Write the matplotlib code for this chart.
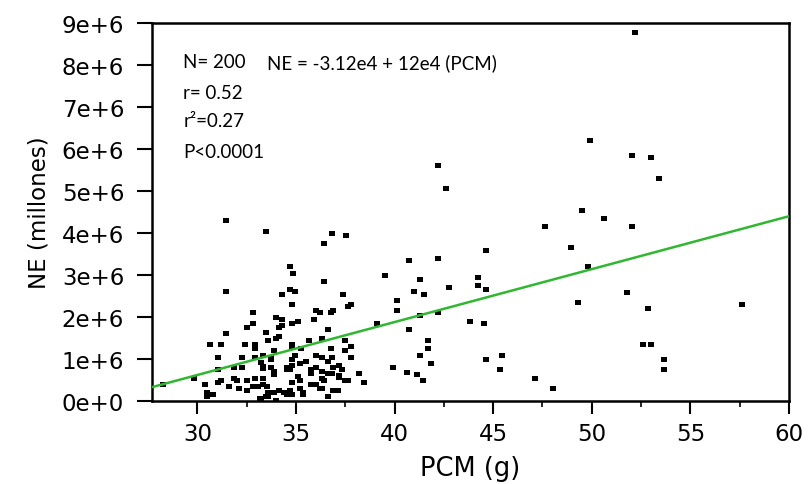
import numpy as np
import matplotlib
matplotlib.use("Agg")
import matplotlib.pyplot as plt

# ── Datos (PCM en g, NE en millones) ───────────────────────────────────────
pcm = [
    31.47, 33.5, 36.85, 37.55, 36.44, 34.7, 34.87, 36.44, 39.53, 31.47,
    34.3, 34.7, 34.97, 37.4, 42.2, 42.6, 52.2, 49.93, 52.06, 53.0,
    53.4, 49.5, 50.6, 47.65, 52.06, 48.96, 49.8, 51.8, 49.3, 52.87,
    57.6, 52.6, 53.0, 53.68, 53.68, 47.1, 48.05, 45.45, 45.37, 44.65,
    40.75, 42.2, 41.3, 44.25, 44.25, 44.65, 42.78, 40.96, 41.5, 40.1,
    40.1, 41.3, 42.2, 39.13, 40.75, 43.84, 44.55, 41.7, 41.7, 41.3,
    41.87, 39.94, 40.65, 41.16, 41.46, 44.65, 37.8, 37.65, 36.9, 36.8,
    37.5, 36.8, 37.8, 37.5, 36.85, 37.8, 36.9, 37.2, 37.35, 36.85,
    37.2, 37.2, 37.5, 37.65, 38.2, 38.47, 36.9, 32.84, 32.84, 32.5,
    31.47, 33.5, 30.66, 31.2, 32.43, 32.94, 32.94, 32.94, 33.6, 31.06,
    32.28, 32.94, 33.35, 33.25, 33.35, 33.35, 31.88, 32.28, 31.06, 29.85,
    28.26, 31.88, 32.03, 32.53, 32.94, 33.35, 31.06, 31.2, 30.4, 31.6,
    32.13, 32.53, 32.84, 33.09, 33.35, 33.55, 30.5, 30.5, 30.5, 30.8,
    33.25, 33.5, 34.82, 36.03, 36.2, 34.0, 34.3, 34.15, 34.3, 34.82,
    35.12, 35.93, 36.6, 34.0, 34.15, 35.68, 36.34, 34.82, 34.82, 35.27,
    33.9, 33.75, 33.75, 34.82, 34.97, 35.53, 36.03, 36.34, 36.6, 33.75,
    33.9, 33.9, 34.56, 34.7, 34.82, 35.22, 35.78, 35.78, 36.03, 36.34,
    36.6, 34.82, 35.12, 35.22, 35.78, 35.93, 36.03, 36.34, 36.44, 36.2,
    36.34, 33.6, 33.9, 34.15, 34.4, 34.7, 34.56, 34.82, 35.22, 35.37,
    35.37, 33.2, 33.6, 34.0, 36.6, 37.15, 34.56,
]
ne = [
    4.31, 4.05, 4.0, 3.95, 3.76, 3.21, 3.05, 2.86, 3.0, 2.62,
    2.55, 2.67, 2.62, 2.55, 5.62, 5.07, 8.79, 6.21, 5.86, 5.81,
    5.31, 4.55, 4.36, 4.17, 4.17, 3.67, 3.21, 2.6, 2.36, 2.21,
    2.31, 1.36, 1.36, 1.0, 0.76, 0.55, 0.31, 1.1, 0.76, 3.6,
    3.36, 3.4, 2.9, 2.95, 2.76, 2.67, 2.71, 2.62, 2.55, 2.4,
    2.17, 2.05, 2.12, 1.86, 1.71, 1.9, 1.86, 1.45, 1.26, 1.1,
    0.9, 0.81, 0.69, 0.64, 0.5, 1.0, 2.31, 2.26, 2.17, 2.12,
    1.45, 1.26, 1.31, 1.21, 1.05, 1.05, 0.81, 0.86, 0.76, 0.67,
    0.62, 0.57, 0.5, 0.5, 0.67, 0.45, 0.26, 2.12, 1.86, 1.76,
    1.62, 1.64, 1.36, 1.36, 1.36, 1.36, 1.31, 1.26, 1.45, 1.05,
    1.05, 1.05, 1.1, 0.93, 0.83, 0.78, 0.81, 0.81, 0.76, 0.55,
    0.4, 0.55, 0.5, 0.5, 0.55, 0.55, 0.45, 0.5, 0.4, 0.36,
    0.31, 0.26, 0.36, 0.36, 0.4, 0.36, 0.21, 0.17, 0.12, 0.17,
    0.05, 0.12, 2.31, 2.17, 2.12, 2.0, 1.95, 1.76, 1.81, 1.86,
    1.9, 1.95, 1.71, 1.5, 1.55, 1.45, 1.5, 1.36, 1.31, 1.26,
    1.21, 1.05, 1.0, 1.0, 1.1, 0.95, 1.1, 1.05, 0.95, 0.81,
    0.71, 0.64, 0.81, 0.76, 0.86, 0.9, 0.76, 0.67, 0.81, 0.71,
    0.67, 0.45, 0.6, 0.5, 0.4, 0.4, 0.4, 0.55, 0.5, 0.31,
    0.31, 0.21, 0.21, 0.26, 0.21, 0.26, 0.17, 0.17, 0.31, 0.21,
    0.17, 0.07, 0.12, 0.02, 0.12, 0.26, 0.76,
]

# recta de regresión (NE = a + b * PCM)
INTERCEPTO = -3.16e6
PENDIENTE = 0.126e6

X_MIN, X_MAX = 27.7, 60
Y_TICKS = [0, 1e6, 2e6, 3e6, 4e6, 5e6, 6e6, 7e6, 8e6, 9e6]
Y_LABELS = ["0e+0", "1e+6", "2e+6", "3e+6", "4e+6", "5e+6", "6e+6", "7e+6", "8e+6", "9e+6"]
X_TICKS = [30, 35, 40, 45, 50, 55, 60]

TEXTOS = ["N= 200", "r= 0.52", "r²=0.27", "P<0.0001"]
ECUACION = "NE = -3.12e4 + 12e4 (PCM)"

plt.rcParams["font.family"] = "DejaVu Sans"

fig = plt.figure(figsize=(8.09, 4.85), dpi=100)
ax = fig.add_axes([0.1879, 0.1711, 0.7874, 0.7794])

rect = [(-1.25, -1), (1.25, -1), (1.25, 1), (-1.25, 1), (-1.25, -1)]
ax.plot(pcm, np.array(ne) * 1e6, linestyle="none", marker=rect,
        markersize=4.5, color="black", markeredgewidth=0, zorder=2)

xs = np.array([X_MIN, X_MAX])
ax.plot(xs, INTERCEPTO + PENDIENTE * xs, color="#2fb82f", lw=1.8, zorder=3)

ax.set_xlim(X_MIN, X_MAX)
ax.set_ylim(0, 9e6)
ax.set_yticks(Y_TICKS)
ax.set_yticklabels(Y_LABELS)
ax.set_xticks(X_TICKS)
ax.set_xticks([32.5, 37.5, 42.5, 47.5, 52.5, 57.5], minor=True)

for s in ax.spines.values():
    s.set_linewidth(1.8)
    s.set_color("black")

ax.tick_params(axis="y", length=11, width=1.5, pad=9, labelsize=16.5)
ax.tick_params(axis="x", which="major", length=9, width=1.5, pad=6, labelsize=16.5)
ax.tick_params(axis="x", which="minor", length=4, width=1.2)

ax.set_xlabel("PCM (g)", fontsize=18.5, labelpad=7)
ax.set_ylabel("NE (millones)", fontsize=16.5, labelpad=8)

ys = [0.897, 0.817, 0.741, 0.661]
for t, y in zip(TEXTOS, ys):
    ax.text(0.049, y, t, transform=ax.transAxes, fontsize=13.5,
            family="Lato", va="center", ha="left")
ax.text(0.18, 0.897, ECUACION, transform=ax.transAxes, fontsize=13.5,
        family="Lato", va="center", ha="left")

plt.savefig("out.png", dpi=100)
plt.close()
